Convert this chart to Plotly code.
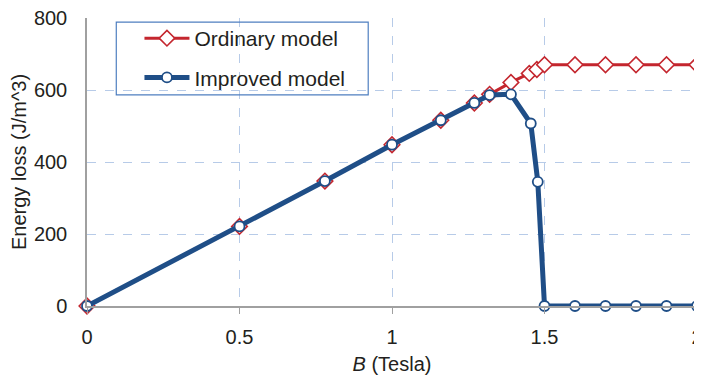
import plotly.graph_objects as go

b_ordinary = [0, 0.5, 0.78, 1.0, 1.16, 1.27, 1.32, 1.39, 1.45, 1.475, 1.5, 1.6, 1.7, 1.8, 1.9, 2.0]
loss_ordinary = [0, 221, 347, 448, 516, 564, 588, 621, 646, 657, 670, 670, 670, 670, 670, 670]

b_improved = [0, 0.5, 0.78, 1.0, 1.16, 1.27, 1.32, 1.39, 1.455, 1.478, 1.5, 1.6, 1.7, 1.8, 1.9, 2.0]
loss_improved = [0, 221, 347, 448, 516, 564, 586, 588, 507, 345, 0, 0, 0, 0, 0, 0]

x_ticks = [0, 0.5, 1, 1.5, 2]
x_tick_labels = ["0", "0.5", "1", "1.5", "2"]
y_ticks = [0, 200, 400, 600, 800]

RED = "#c4262e"
BLUE = "#1f4e87"
GRID = "#b7cbe8"
AXIS = "#a0a0a0"
TXT = "#231f20"
FONT = "Arial, Liberation Sans, sans-serif"

fig = go.Figure()
fig.add_trace(go.Scatter(
    x=b_ordinary, y=loss_ordinary, mode="lines+markers", name="Ordinary model",
    legendgroup="a", cliponaxis=False,
    line=dict(color=RED, width=3),
    marker=dict(symbol="diamond", size=12, color="white", line=dict(color=RED, width=1.6)),
))
fig.add_trace(go.Scatter(
    x=b_improved, y=loss_improved, mode="lines+markers", name="Improved model",
    legendgroup="b", cliponaxis=False,
    line=dict(color=BLUE, width=5),
    marker=dict(symbol="circle", size=10, color="white", line=dict(color=BLUE, width=1.8)),
))

fig.add_shape(type="line", xref="x", yref="paper", x0=2, x1=2, y0=0, y1=1,
              line=dict(color=GRID, width=1.5), layer="below")
fig.add_shape(type="rect", xref="paper", yref="paper", x0=0.048, x1=0.461, y0=0.733, y1=0.986,
              line=dict(color="#4f7fc0", width=1.2), fillcolor="rgba(0,0,0,0)")

fig.update_layout(
    width=694, height=371,
    margin=dict(l=79, r=5, t=10, b=73, autoexpand=False),
    paper_bgcolor="white", plot_bgcolor="white",
    font=dict(family=FONT, size=20, color=TXT),
    legend=dict(
        x=0.086, y=1.0, xanchor="left", yanchor="top",
        bgcolor="rgba(0,0,0,0)", borderwidth=0,
        font=dict(size=21, color=TXT),
        itemwidth=45, tracegroupgap=9,
    ),
    xaxis=dict(
        range=[0, 2], tickvals=x_ticks, ticktext=x_tick_labels,
        automargin=False,
        showgrid=True, gridcolor=GRID, griddash="dash", gridwidth=1,
        showline=True, linecolor=AXIS, linewidth=1.5,
        ticks="outside", ticklen=6, tickcolor=AXIS, ticklabelstandoff=6,
        ticklabeloverflow="allow",
        zeroline=False,
        title=dict(text="<i>B</i> (Tesla)", font=dict(size=20), standoff=10),
    ),
    yaxis=dict(
        range=[0, 800], tickvals=y_ticks,
        automargin=False,
        showgrid=True, gridcolor=GRID, griddash="dash", gridwidth=1,
        showline=True, linecolor=AXIS, linewidth=1.5,
        ticks="", ticklabelstandoff=14,
        ticklabeloverflow="allow",
        zeroline=False,
        title=dict(text="Energy loss (J/m^3)", font=dict(size=20), standoff=6),
    ),
)

fig.write_html("out.html")
